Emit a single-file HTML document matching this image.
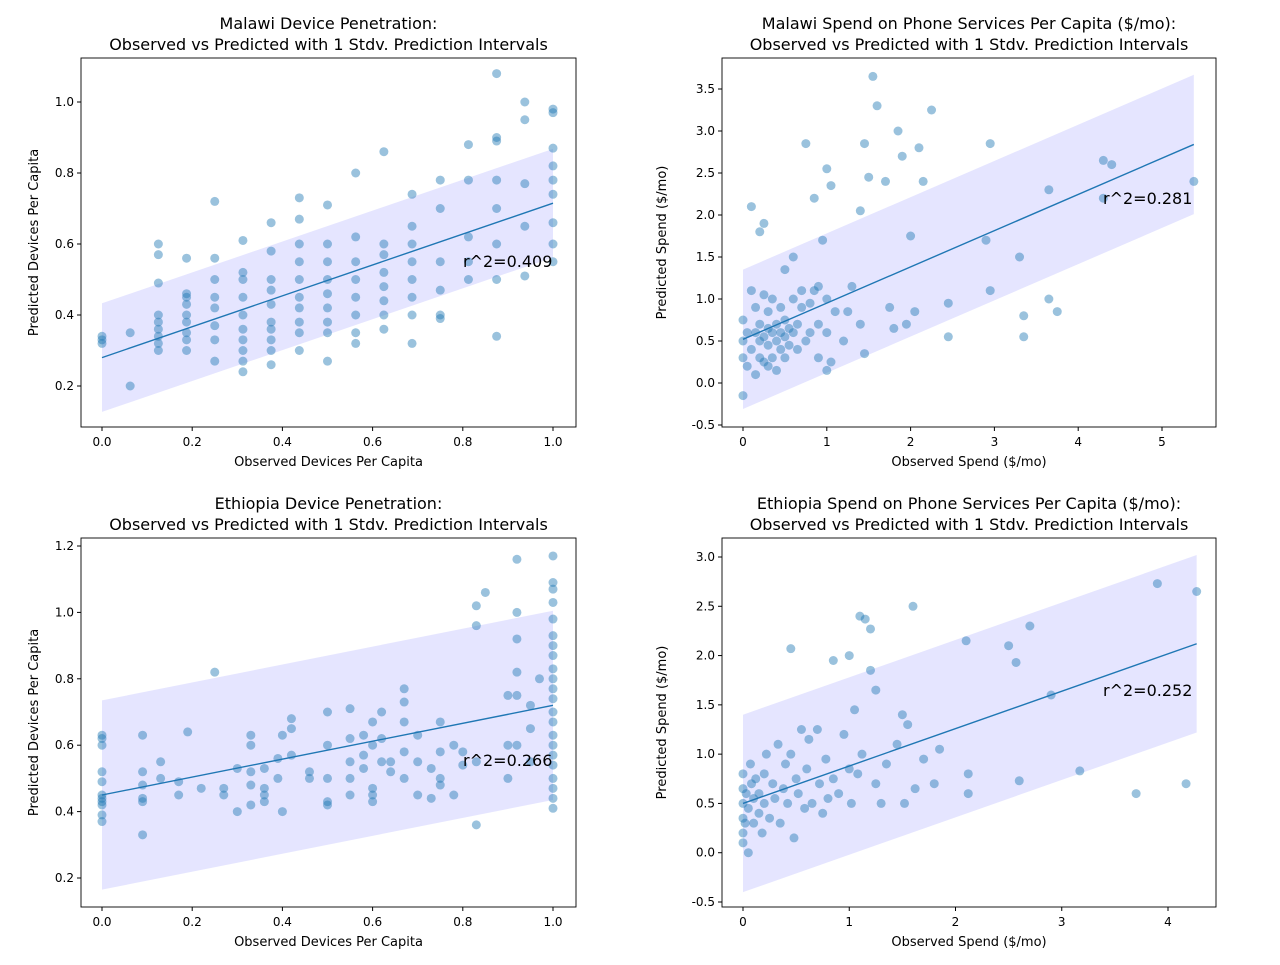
<!DOCTYPE html>
<html><head><meta charset="utf-8"><style>
body{margin:0;background:#fff}
svg{font-family:"DejaVu Sans","Liberation Sans",sans-serif}
</style></head><body>
<svg id="s" width="1280" height="960" xmlns="http://www.w3.org/2000/svg"></svg>
<script>
// ---- data ----
const tlX=[0,0,0,0.0625,0.0625,0.125,0.125,0.125,0.125,0.125,0.125,0.125,0.125,0.125,0.1875,0.1875,0.1875,0.1875,0.1875,0.1875,0.1875,0.1875,0.1875,0.25,0.25,0.25,0.25,0.25,0.25,0.25,0.25,0.3125,0.3125,0.3125,0.3125,0.3125,0.3125,0.3125,0.3125,0.3125,0.3125,0.375,0.375,0.375,0.375,0.375,0.375,0.375,0.375,0.375,0.375,0.4375,0.4375,0.4375,0.4375,0.4375,0.4375,0.4375,0.4375,0.4375,0.4375,0.5,0.5,0.5,0.5,0.5,0.5,0.5,0.5,0.5,0.5625,0.5625,0.5625,0.5625,0.5625,0.5625,0.5625,0.5625,0.625,0.625,0.625,0.625,0.625,0.625,0.625,0.625,0.6875,0.6875,0.6875,0.6875,0.6875,0.6875,0.6875,0.6875,0.75,0.75,0.75,0.75,0.75,0.75,0.8125,0.8125,0.8125,0.8125,0.8125,0.875,0.875,0.875,0.875,0.875,0.875,0.875,0.875,0.9375,0.9375,0.9375,0.9375,0.9375,1,1,1,1,1,1,1,1,1];
const tlY=[0.33,0.32,0.34,0.2,0.35,0.6,0.57,0.49,0.4,0.38,0.36,0.34,0.32,0.3,0.46,0.45,0.43,0.4,0.38,0.35,0.33,0.3,0.56,0.72,0.56,0.5,0.45,0.42,0.37,0.33,0.27,0.61,0.52,0.5,0.45,0.4,0.36,0.33,0.3,0.27,0.24,0.66,0.58,0.5,0.47,0.43,0.38,0.36,0.33,0.3,0.26,0.73,0.67,0.6,0.55,0.5,0.45,0.42,0.38,0.35,0.3,0.71,0.6,0.55,0.5,0.46,0.42,0.38,0.35,0.27,0.8,0.62,0.55,0.5,0.45,0.4,0.35,0.32,0.86,0.6,0.57,0.52,0.48,0.44,0.4,0.36,0.74,0.65,0.6,0.55,0.5,0.45,0.4,0.32,0.78,0.7,0.55,0.47,0.4,0.39,0.88,0.78,0.62,0.55,0.5,1.08,0.9,0.89,0.78,0.7,0.6,0.5,0.34,1.0,0.95,0.77,0.65,0.51,0.98,0.97,0.87,0.82,0.78,0.74,0.66,0.6,0.55];
const trX=[0,0,0,0,0.05,0.05,0.1,0.1,0.1,0.15,0.15,0.15,0.2,0.2,0.2,0.2,0.25,0.25,0.25,0.25,0.3,0.3,0.3,0.3,0.35,0.35,0.35,0.4,0.4,0.4,0.45,0.45,0.45,0.5,0.5,0.5,0.5,0.55,0.55,0.6,0.6,0.6,0.65,0.65,0.7,0.7,0.75,0.75,0.8,0.8,0.85,0.85,0.9,0.9,0.9,0.95,1.0,1.0,1.0,1.0,1.05,1.05,1.1,1.2,1.25,1.3,1.4,1.4,1.45,1.45,1.5,1.55,1.6,1.7,1.75,1.8,1.85,1.9,1.95,2.0,2.05,2.1,2.15,2.25,2.45,2.45,2.9,2.95,2.95,3.3,3.35,3.35,3.65,3.65,3.75,4.3,4.4,4.3,5.38];
const trY=[-0.15,0.3,0.5,0.75,0.2,0.6,0.4,1.1,2.1,0.1,0.6,0.9,0.3,0.5,0.7,1.8,0.25,0.55,1.05,1.9,0.2,0.45,0.65,0.85,0.3,0.6,1.0,0.15,0.5,0.7,0.4,0.6,0.9,0.3,0.55,0.75,1.35,0.45,0.65,0.6,1.0,1.5,0.4,0.7,0.9,1.1,0.5,2.85,0.6,0.95,1.1,2.2,0.3,0.7,1.15,1.7,0.15,0.6,1.0,2.55,0.25,2.35,0.85,0.5,0.85,1.15,0.7,2.05,0.35,2.85,2.45,3.65,3.3,2.4,0.9,0.65,3.0,2.7,0.7,1.75,0.85,2.8,2.4,3.25,0.95,0.55,1.7,2.85,1.1,1.5,0.8,0.55,2.3,1.0,0.85,2.65,2.6,2.2,2.4];
const blX=[0,0,0,0,0,0,0,0,0,0,0,0.09,0.09,0.09,0.09,0.09,0.09,0.13,0.13,0.17,0.17,0.19,0.22,0.25,0.27,0.27,0.3,0.3,0.33,0.33,0.33,0.33,0.33,0.36,0.36,0.36,0.36,0.39,0.39,0.4,0.4,0.42,0.42,0.42,0.46,0.46,0.5,0.5,0.5,0.5,0.5,0.55,0.55,0.55,0.55,0.55,0.58,0.58,0.58,0.6,0.6,0.6,0.6,0.6,0.62,0.62,0.62,0.64,0.64,0.67,0.67,0.67,0.67,0.67,0.7,0.7,0.7,0.73,0.73,0.75,0.75,0.75,0.75,0.78,0.78,0.8,0.8,0.83,0.83,0.83,0.83,0.85,0.9,0.9,0.9,0.92,0.92,0.92,0.92,0.92,0.92,0.95,0.95,0.95,0.97,1,1,1,1,1,1,1,1,1,1,1,1,1,1,1,1,1,1,1,1,1,1];
const blY=[0.63,0.62,0.6,0.52,0.49,0.45,0.44,0.43,0.42,0.39,0.37,0.63,0.52,0.48,0.44,0.43,0.33,0.55,0.5,0.49,0.45,0.64,0.47,0.82,0.47,0.45,0.53,0.4,0.63,0.6,0.52,0.48,0.42,0.53,0.47,0.45,0.43,0.56,0.5,0.63,0.4,0.68,0.65,0.57,0.52,0.5,0.7,0.6,0.5,0.43,0.42,0.71,0.62,0.55,0.5,0.45,0.63,0.57,0.53,0.67,0.6,0.47,0.45,0.43,0.7,0.62,0.55,0.55,0.52,0.77,0.73,0.67,0.58,0.5,0.63,0.55,0.45,0.53,0.44,0.67,0.58,0.5,0.48,0.6,0.45,0.58,0.54,1.02,0.96,0.55,0.36,1.06,0.75,0.6,0.5,1.16,1.0,0.92,0.82,0.75,0.6,0.72,0.65,0.55,0.8,1.17,1.09,1.07,1.03,0.98,0.93,0.9,0.87,0.83,0.8,0.77,0.74,0.7,0.67,0.63,0.6,0.57,0.54,0.5,0.47,0.44,0.41];
const brX=[0,0,0,0,0,0,0.02,0.03,0.05,0.05,0.07,0.08,0.1,0.1,0.12,0.15,0.15,0.18,0.2,0.2,0.22,0.25,0.28,0.3,0.33,0.35,0.38,0.4,0.42,0.45,0.45,0.48,0.5,0.52,0.55,0.58,0.6,0.62,0.65,0.7,0.72,0.75,0.78,0.8,0.85,0.85,0.9,0.95,1.0,1.0,1.02,1.05,1.08,1.1,1.12,1.15,1.2,1.2,1.25,1.25,1.3,1.35,1.45,1.5,1.52,1.55,1.6,1.62,1.7,1.8,1.85,2.1,2.12,2.12,2.5,2.57,2.6,2.7,2.9,3.17,3.7,3.9,4.17,4.27];
const brY=[0.1,0.2,0.35,0.5,0.65,0.8,0.3,0.6,0.0,0.45,0.9,0.7,0.3,0.55,0.75,0.4,0.6,0.2,0.8,0.5,1.0,0.35,0.7,0.55,1.1,0.3,0.65,0.9,0.5,2.07,1.0,0.15,0.75,0.6,1.25,0.45,0.85,1.15,0.5,1.25,0.7,0.4,0.95,0.55,0.75,1.95,0.6,1.2,0.85,2.0,0.5,1.45,0.8,2.4,1.0,2.37,2.27,1.85,1.65,0.7,0.5,0.9,1.1,1.4,0.5,1.3,2.5,0.65,0.95,0.7,1.05,2.15,0.8,0.6,2.1,1.93,0.73,2.3,1.6,0.83,0.6,2.73,0.7,2.65];
const tlTicksX=[0,0.2,0.4,0.6,0.8,1.0], tlTicksY=[0.2,0.4,0.6,0.8,1.0];
const trTicksX=[0,1,2,3,4,5], trTicksY=[-0.5,0,0.5,1,1.5,2,2.5,3,3.5];
const blTicksX=[0,0.2,0.4,0.6,0.8,1.0], blTicksY=[0.2,0.4,0.6,0.8,1.0,1.2];
const brTicksX=[0,1,2,3,4], brTicksY=[-0.5,0,0.5,1,1.5,2,2.5,3];

const NS="http://www.w3.org/2000/svg", svg=document.getElementById('s');
function el(t,a,p){const e=document.createElementNS(NS,t);for(const k in a)e.setAttribute(k,a[k]);(p||svg).appendChild(e);return e;}
function plot(c){
  const g=el('g',{});
  
  
  const sx=v=>c.x0px+(v-c.xa)*(c.x1px-c.x0px)/(c.xb-c.xa);
  const sy=v=>c.y0px+(v-c.ya)*(c.y1px-c.y0px)/(c.yb-c.ya);
  const xmax=Math.max(...c.xs);
  const band=el('polygon',{points:`${sx(0)},${sy(c.b0+c.hw)} ${sx(xmax)},${sy(c.b1+c.hw)} ${sx(xmax)},${sy(c.b1-c.hw)} ${sx(0)},${sy(c.b0-c.hw)}`,fill:'#0000ff','fill-opacity':0.1},g);
  
  
  c.xs.forEach((x,i)=>{const p=el('circle',{cx:sx(x),cy:sy(c.ys[i]),r:4.5,fill:'#1f77b4','fill-opacity':0.45},g);
    
    });
  const ln=el('line',{x1:sx(0),y1:sy(c.b0),x2:sx(xmax),y2:sy(c.b1),stroke:'#1f77b4','stroke-width':1.4},g);
  
  
  const fr=el('rect',{x:c.L,y:c.T,width:c.R-c.L,height:c.B-c.T,fill:'none',stroke:'#000','stroke-width':0.9},g);
  
  
  c.tx.forEach(v=>{const x=sx(v);el('line',{x1:x,y1:c.B,x2:x,y2:c.B+4,stroke:'#000'},g);
    const t=el('text',{x:x,y:c.B+19,'font-size':12,'text-anchor':'middle'},g);t.textContent=c.fx(v);
    
    });
  c.ty.forEach(v=>{const y=sy(v);el('line',{x1:c.L-4,y1:y,x2:c.L,y2:y,stroke:'#000'},g);
    const t=el('text',{x:c.L-7,y:y+4,'font-size':12,'text-anchor':'end'},g);t.textContent=c.fy(v);
    
    });
  const cx=(c.L+c.R)/2;
  const t1=el('text',{x:cx,y:c.T-29,'font-size':16,'text-anchor':'middle'},g);t1.textContent=c.title;
  
  
  const t2=el('text',{x:cx,y:c.T-8,'font-size':16,'text-anchor':'middle'},g);t2.textContent='Observed vs Predicted with 1 Stdv. Prediction Intervals';
  
  
  const xl=el('text',{x:cx,y:c.B+39,'font-size':13,'text-anchor':'middle'},g);xl.textContent=c.xlabel;
  
  
  const yl=el('text',{x:0,y:0,'font-size':13,'text-anchor':'middle',transform:`translate(${c.ylx},${(c.T+c.B)/2}) rotate(-90)`},g);yl.textContent=c.ylabel;
  
  
  const r=el('text',{x:c.rx,y:c.ry,'font-size':16},g);r.textContent=c.r2;
  
  
}
const f1=v=>v.toFixed(1);
plot({name:'malawi-devices-chart',L:81,R:576,T:58,B:427,xa:0,xb:1,x0px:102,x1px:553,ya:0.2,yb:1.0,y0px:386,y1px:102,xs:tlX,ys:tlY,b0:0.28,b1:0.715,hw:0.153,tx:tlTicksX,ty:tlTicksY,fx:f1,fy:f1,title:'Malawi Device Penetration:',xlabel:'Observed Devices Per Capita',ylabel:'Predicted Devices Per Capita',ylx:38,rx:463,ry:267,r2:'r^2=0.409'});
plot({name:'malawi-spend-chart',L:722,R:1216,T:58,B:427,xa:0,xb:5,x0px:743,x1px:1162,ya:-0.5,yb:3.5,y0px:425,y1px:89,xs:trX,ys:trY,b0:0.52,b1:2.84,hw:0.83,tx:trTicksX,ty:trTicksY,fx:v=>String(v),fy:f1,title:'Malawi Spend on Phone Services Per Capita ($/mo):',xlabel:'Observed Spend ($/mo)',ylabel:'Predicted Spend ($/mo)',ylx:666,rx:1103,ry:204,r2:'r^2=0.281'});
plot({name:'ethiopia-devices-chart',L:81,R:576,T:538,B:907,xa:0,xb:1,x0px:102,x1px:553,ya:0.2,yb:1.2,y0px:878,y1px:546,xs:blX,ys:blY,b0:0.45,b1:0.72,hw:0.285,tx:blTicksX,ty:blTicksY,fx:f1,fy:f1,title:'Ethiopia Device Penetration:',xlabel:'Observed Devices Per Capita',ylabel:'Predicted Devices Per Capita',ylx:38,rx:463,ry:766,r2:'r^2=0.266'});
plot({name:'ethiopia-spend-chart',L:722,R:1216,T:538,B:907,xa:0,xb:4,x0px:743,x1px:1168,ya:-0.5,yb:3.0,y0px:902,y1px:557,xs:brX,ys:brY,b0:0.5,b1:2.12,hw:0.9,tx:brTicksX,ty:brTicksY,fx:v=>String(v),fy:f1,title:'Ethiopia Spend on Phone Services Per Capita ($/mo):',xlabel:'Observed Spend ($/mo)',ylabel:'Predicted Spend ($/mo)',ylx:666,rx:1103,ry:696,r2:'r^2=0.252'});
</script>
</body></html>
